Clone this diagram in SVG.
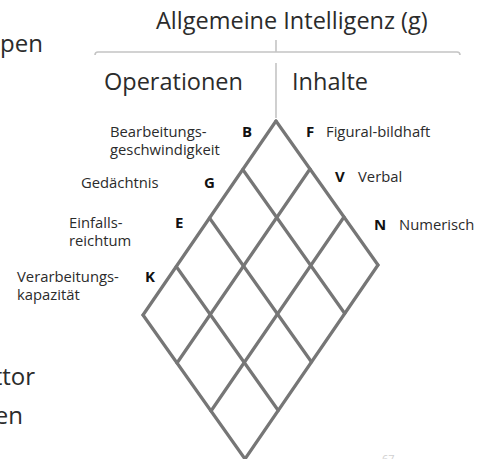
<svg xmlns="http://www.w3.org/2000/svg" width="485" height="459" viewBox="0 0 485 459">
  <style>
    text { font-family: "Open Sans", "Noto Sans", "DejaVu Sans", sans-serif; fill: #2b2b2b; }
    .big { font-size: 23.5px; }
    .side { font-size: 24px; }
    .lbl { font-size: 14.8px; }
    .key { font-size: 15px; font-weight: bold; fill: #111; }
    .bracket { fill: none; stroke: #c4c4c4; stroke-width: 1.6; }
    .grid line { stroke: #767676; stroke-width: 3.2; stroke-linecap: round; }
    .page { font-size: 11px; fill: #d0d0d0; }
  </style>
  <rect width="485" height="459" fill="#ffffff"/>

  <!-- slide text cut at the left edge -->
  <text class="side" x="43" y="52" text-anchor="end">pen</text>
  <text class="side" x="35" y="385" text-anchor="end">ttor</text>
  <text class="side" x="23" y="424" text-anchor="end">en</text>

  <!-- top node: general intelligence -->
  <g id="node-g">
    <text class="big" x="156" y="29">Allgemeine Intelligenz (g)</text>
  </g>

  <!-- bracket and stem -->
  <g id="connectors">
    <path class="bracket" d="M95,55 Q95,52 98,52 L457,52 Q460,52 460,55"/>
    <line class="bracket" x1="276" y1="40" x2="276" y2="52"/>
    <line class="bracket" x1="276" y1="63" x2="276" y2="118"/>
  </g>

  <g id="node-operationen">
    <text class="big" x="104" y="90">Operationen</text>
  </g>
  <g id="node-inhalte">
    <text class="big" x="292" y="90">Inhalte</text>
  </g>

  <!-- rhombus grid: 4 operations x 3 contents -->
  <g id="grid" class="grid">
    <line x1="276" y1="121" x2="378" y2="265"/>
    <line x1="242.75" y1="169.5" x2="344.75" y2="313.5"/>
    <line x1="209.5" y1="218" x2="311.5" y2="362"/>
    <line x1="176.25" y1="266.5" x2="278.25" y2="410.5"/>
    <line x1="143" y1="315" x2="245" y2="459"/>
    <line x1="276" y1="121" x2="143" y2="315"/>
    <line x1="310" y1="169" x2="177" y2="363"/>
    <line x1="344" y1="217" x2="211" y2="411"/>
    <line x1="378" y1="265" x2="245" y2="459"/>
  </g>

  <!-- operation labels -->
  <g id="op-B">
    <text class="lbl" x="110" y="137">Bearbeitungs-</text>
    <text class="lbl" x="110" y="155">geschwindigkeit</text>
    <text class="key" x="242" y="137">B</text>
  </g>
  <g id="op-G">
    <text class="lbl" x="81" y="188">Gedächtnis</text>
    <text class="key" x="204" y="188">G</text>
  </g>
  <g id="op-E">
    <text class="lbl" x="69" y="228">Einfalls-</text>
    <text class="lbl" x="69" y="246">reichtum</text>
    <text class="key" x="175" y="228">E</text>
  </g>
  <g id="op-K">
    <text class="lbl" x="17" y="282">Verarbeitungs-</text>
    <text class="lbl" x="17" y="300">kapazität</text>
    <text class="key" x="145" y="282">K</text>
  </g>

  <!-- content labels -->
  <g id="ct-F">
    <text class="key" x="306" y="137">F</text>
    <text class="lbl" x="326" y="137">Figural-bildhaft</text>
  </g>
  <g id="ct-V">
    <text class="key" x="335" y="182">V</text>
    <text class="lbl" x="358" y="182">Verbal</text>
  </g>
  <g id="ct-N">
    <text class="key" x="374" y="230">N</text>
    <text class="lbl" x="399" y="230">Numerisch</text>
  </g>

  <text class="page" x="382" y="463">67</text>
</svg>
